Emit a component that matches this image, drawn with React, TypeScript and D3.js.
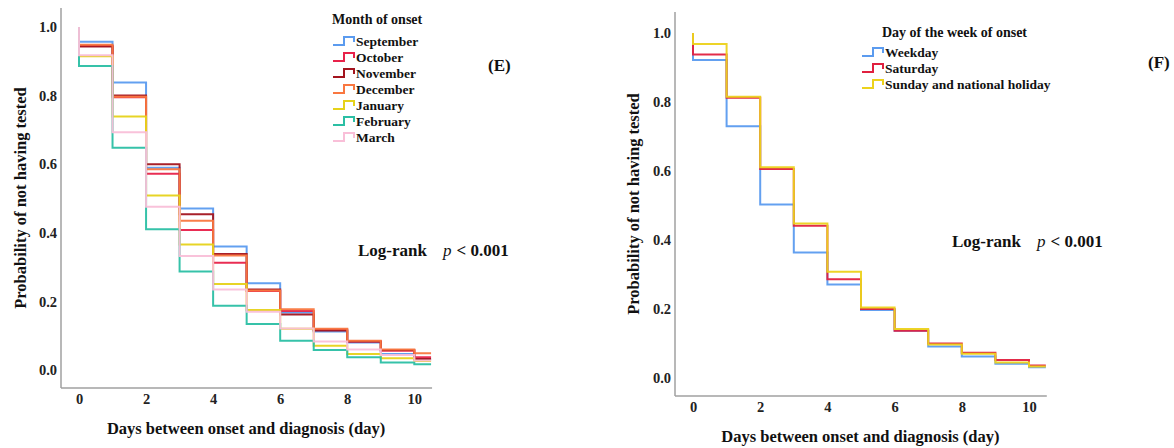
import React, { useEffect, useRef } from 'react';
import * as d3 from 'd3';

// interval start days; the last step runs on to 10.5
const days = [0, 1, 2, 3, 4, 5, 6, 7, 8, 9, 10];
const yTicks = [0, 0.2, 0.4, 0.6, 0.8, 1.0];
const xTicks = [0, 2, 4, 6, 8, 10];

// (E) month of onset
const months = ['September', 'October', 'November', 'December', 'January', 'February', 'March'];
const monthColors = ['#5b9bef', '#e8224a', '#a3141e', '#f97740', '#e6d21a', '#2bbfa4', '#f9bfd8'];
const september = [0.957, 0.838, 0.590, 0.471, 0.360, 0.253, 0.168, 0.112, 0.080, 0.047, 0.031];
const october = [0.945, 0.795, 0.572, 0.408, 0.313, 0.230, 0.172, 0.118, 0.083, 0.056, 0.037];
const november = [0.943, 0.800, 0.600, 0.454, 0.338, 0.235, 0.162, 0.115, 0.083, 0.058, 0.032];
const december = [0.948, 0.797, 0.585, 0.435, 0.334, 0.232, 0.177, 0.120, 0.085, 0.060, 0.049];
const january = [0.915, 0.739, 0.509, 0.366, 0.251, 0.175, 0.120, 0.071, 0.047, 0.034, 0.026];
const february = [0.886, 0.648, 0.410, 0.287, 0.187, 0.134, 0.085, 0.058, 0.037, 0.022, 0.017];
const march = [0.918, 0.693, 0.476, 0.332, 0.235, 0.170, 0.121, 0.083, 0.060, 0.044, 0.028];

// (F) day of the week of onset
const weekdays = ['Weekday', 'Saturday', 'Sunday and national holiday'];
const weekdayColors = ['#5b9bef', '#e0203f', '#ecd21c'];
const weekday = [0.922, 0.730, 0.503, 0.364, 0.271, 0.197, 0.137, 0.091, 0.062, 0.041, 0.031];
const saturday = [0.938, 0.812, 0.606, 0.441, 0.286, 0.200, 0.137, 0.100, 0.073, 0.052, 0.036];
const sunday = [0.968, 0.815, 0.611, 0.448, 0.308, 0.204, 0.142, 0.097, 0.070, 0.045, 0.033];

const FONT = '"Liberation Serif", "Times New Roman", serif';

type Panel = {
  x0: number; x10: number; yTop: number; y0: number; y1: number; base: number;
  axisLeft: number; axisTitleY: number; yTitleX: number; yTitleY: number;
  series: number[][]; colors: string[]; names: string[];
  legendTitle: string; legendTitleX: number; legendTitleY: number;
  legendX: number; legendY: number;
  tag: string; tagX: number; tagY: number; logX: number; logY: number;
};

const panels: Panel[] = [
  {
    x0: 79, x10: 414.3, yTop: 8, y0: 370, y1: 27, base: 388, axisLeft: 61,
    axisTitleY: 434, yTitleX: 20, yTitleY: 198,
    series: [september, october, november, december, january, february, march],
    colors: monthColors, names: months,
    legendTitle: 'Month of onset', legendTitleX: 332, legendTitleY: 24,
    legendX: 333, legendY: 41,
    tag: '(E)', tagX: 488, tagY: 71, logX: 358, logY: 256,
  },
  {
    x0: 693, x10: 1029, yTop: 12, y0: 378, y1: 33, base: 396, axisLeft: 675,
    axisTitleY: 442, yTitleX: 633, yTitleY: 204,
    series: [weekday, saturday, sunday],
    colors: weekdayColors, names: weekdays,
    legendTitle: 'Day of the week of onset', legendTitleX: 882, legendTitleY: 37,
    legendX: 862, legendY: 52,
    tag: '(F)', tagX: 1148, tagY: 68, logX: 952, logY: 247,
  },
];

export default function App() {
  const svgRef = useRef<SVGSVGElement>(null);

  useEffect(() => {
    const svg = d3.select(svgRef.current);
    svg.selectAll('*').remove();

    panels.forEach((p) => {
      const g = svg.append('g');
      const x = d3.scaleLinear().domain([0, 10]).range([p.x0, p.x10]);
      const y = d3.scaleLinear().domain([0, 1]).range([p.y0, p.y1]);
      const xEnd = x(10.5);

      // axes
      g.append('line')
        .attr('x1', p.axisLeft).attr('x2', p.axisLeft)
        .attr('y1', p.yTop).attr('y2', p.base)
        .attr('stroke', '#a0a0a0').attr('stroke-width', 1.5);
      g.append('line')
        .attr('x1', p.axisLeft).attr('x2', xEnd + 1)
        .attr('y1', p.base).attr('y2', p.base)
        .attr('stroke', '#a0a0a0').attr('stroke-width', 1.5);

      const yAxis = d3.axisLeft(y).tickValues(yTicks).tickSize(0).tickPadding(0)
        .tickFormat(d3.format('.1f'));
      g.append('g')
        .attr('transform', `translate(${p.axisLeft - 4},0)`)
        .call(yAxis)
        .call((a) => a.select('.domain').remove())
        .selectAll('text')
        .attr('font-family', FONT).attr('font-weight', 'bold')
        .attr('font-size', 14.5).attr('fill', '#222');

      const xAxis = d3.axisBottom(x).tickValues(xTicks).tickSize(0).tickPadding(0)
        .tickFormat(d3.format('d'));
      g.append('g')
        .attr('transform', `translate(0,${p.base + 6})`)
        .call(xAxis)
        .call((a) => a.select('.domain').remove())
        .selectAll('text')
        .attr('font-family', FONT).attr('font-weight', 'bold')
        .attr('font-size', 14.5).attr('fill', '#222');

      g.append('text')
        .attr('x', (p.axisLeft + xEnd) / 2).attr('y', p.axisTitleY)
        .attr('text-anchor', 'middle')
        .attr('font-family', FONT).attr('font-weight', 'bold').attr('font-size', 16.5)
        .attr('fill', '#111')
        .text('Days between onset and diagnosis (day)');

      g.append('text')
        .attr('transform', `translate(${p.yTitleX},${p.yTitleY}) rotate(-90)`)
        .attr('text-anchor', 'middle').attr('dy', '0.35em')
        .attr('font-family', FONT).attr('font-weight', 'bold').attr('font-size', 16.5)
        .attr('fill', '#111')
        .text('Probability of not having tested');

      // step curves
      const line = d3.line<[number, number]>()
        .x((d) => x(d[0])).y((d) => y(d[1]))
        .curve(d3.curveStepAfter);
      p.series.forEach((vals, i) => {
        const pts: [number, number][] = [[0, 1]];
        days.forEach((d, k) => pts.push([d, vals[k]]));
        pts.push([10.5, vals[vals.length - 1]]);
        g.append('path')
          .attr('d', line(pts))
          .attr('fill', 'none')
          .attr('stroke', p.colors[i])
          .attr('stroke-width', 2)
          .attr('stroke-opacity', 0.95);
      });

      // legend
      g.append('text')
        .attr('x', p.legendTitleX).attr('y', p.legendTitleY)
        .attr('font-family', FONT).attr('font-weight', 'bold').attr('font-size', 14)
        .attr('fill', '#111')
        .text(p.legendTitle);
      p.names.forEach((name, i) => {
        const ly = p.legendY + i * 16;
        g.append('path')
          .attr('d', `M${p.legendX},${ly + 4}H${p.legendX + 11}V${ly - 4}H${p.legendX + 21}V${ly + 1}`)
          .attr('fill', 'none').attr('stroke', p.colors[i]).attr('stroke-width', 2);
        g.append('text')
          .attr('x', p.legendX + 23).attr('y', ly).attr('dy', '0.35em')
          .attr('font-family', FONT).attr('font-weight', 'bold').attr('font-size', 13.5)
          .attr('fill', '#111')
          .text(name);
      });

      g.append('text')
        .attr('x', p.tagX).attr('y', p.tagY)
        .attr('font-family', FONT).attr('font-weight', 'bold').attr('font-size', 17)
        .attr('fill', '#111')
        .text(p.tag);

      const lr = g.append('text')
        .attr('x', p.logX).attr('y', p.logY)
        .attr('font-family', FONT).attr('font-weight', 'bold').attr('font-size', 17)
        .attr('fill', '#111');
      lr.append('tspan').text('Log-rank');
      lr.append('tspan').attr('dx', 16).attr('font-style', 'italic').attr('font-weight', 'normal').text('p');
      lr.append('tspan').attr('dx', 5).text('< 0.001');
    });
  }, []);

  return (
    <svg
      ref={svgRef}
      width={1174}
      height={448}
      style={{ position: 'absolute', left: 0, top: 0, background: '#fff' }}
    />
  );
}
